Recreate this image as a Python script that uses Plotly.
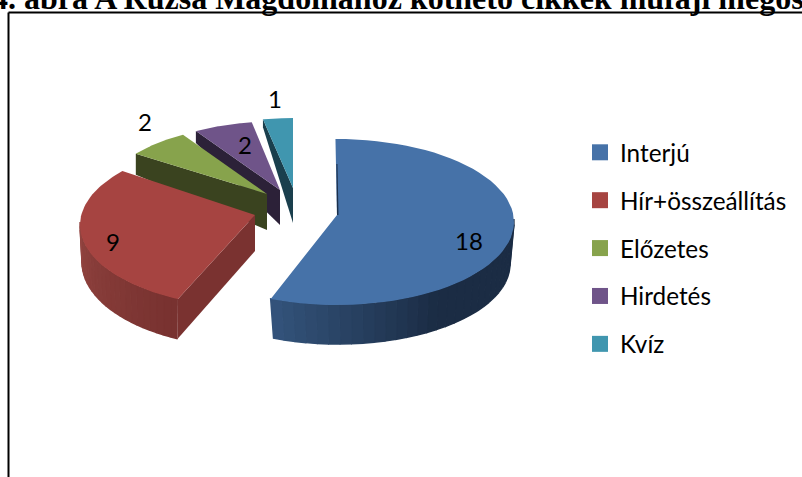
import math
import plotly.graph_objects as go

# ---------- data ----------
categories = ["Interjú", "Hír+összeállítás", "Előzetes", "Hirdetés", "Kvíz"]
values = [18, 9, 2, 2, 1]
title_text = "4. ábra A Rúzsa Magdolnához köthető cikkek műfaji megoszlása"

# ---------- style ----------
top_colors = ["#4672A8", "#A64441", "#87A34C", "#6F5489", "#4096AF"]
cut_colors = ["#1B2F4A", "#7A3230", "#3A431F", "#2C2138", "#1A3F4D"]
wall_from = {0: (52, 84, 124), 1: (120, 50, 48)}
wall_to = {0: (27, 44, 68), 1: (146, 68, 64)}

# Hand-fitted projection of each exploded slice (page pixels)
# apex, top ellipse (cx, cy, rx, ry), angle phase and span stretch, extrusion depths
proj = [
    dict(apex=(337, 215), top=(337, 222, 177, 83), phase=-0.5, stretch=1.0, bottom=(338, 264, 172, 80), apex_depth=36),
    dict(apex=(255, 215), top=(252, 225, 172, 82), phase=3, stretch=1.043, bottom=(250, 262, 168, 85), apex_depth=36),
    dict(apex=(267, 194), top=(278, 192, 171, 69), phase=0, stretch=1.0, rim_depth=21, apex_depth=36),
    dict(apex=(280, 190), top=(282, 181, 155, 60), phase=0, stretch=1.0, rim_depth=12, apex_depth=35),
    dict(apex=(293, 188), top=(293, 188, 154, 70), phase=0, stretch=1.0, rim_depth=8, apex_depth=35),
]
label_pos = [(469, 244), (113, 245), (145, 125), (245, 148), (275, 102)]


def pt(ell, deg):
    r = math.radians(deg)
    return ell[0] + ell[2] * math.sin(r), ell[1] - ell[3] * math.cos(r)


def frange(a, b, n):
    return [a + (b - a) * i / n for i in range(n + 1)]


def poly(points, color, line=False):
    xs = [p[0] for p in points]
    ys = [p[1] for p in points]
    return go.Scatter(x=xs, y=ys, mode="lines", fill="toself", fillcolor=color,
                      line=dict(color=color, width=1.5 if line else 0),
                      showlegend=False, hoverinfo="skip")


# slice angles come from the values, clockwise from 12 o'clock
total = sum(values)
spans = []
acc = 0.0
for v in values:
    a0 = acc
    acc += 360.0 * v / total
    spans.append((a0, acc))

fig = go.Figure()

# back-to-front painting order
for i in [4, 3, 2, 1, 0]:
    g = proj[i]
    a0, a1 = spans[i]
    s = a0 + g["phase"]
    e = s + (a1 - a0) * g["stretch"]
    ax, ay = g["apex"]
    top_arc = [pt(g["top"], d) for d in frange(s, e, 60)]

    if i == 0:
        # outer wall strips, front of the ellipse only
        strips = frange(88, e, 30)
        for k in range(len(strips) - 1):
            d0, d1 = strips[k], strips[k + 1]
            t = max(0.0, min(1.0, ((d0 + d1) / 2 - 145) / (e - 145)))
            c = tuple(int(wall_to[0][n] * (1 - t) + wall_from[0][n] * t) for n in range(3))
            fig.add_trace(poly([pt(g["top"], d0), pt(g["top"], d1), pt(g["bottom"], d1), pt(g["bottom"], d0)],
                               "rgb(%d,%d,%d)" % c, True))
    elif i == 1:
        strips = frange(s, min(e, 272), 24)
        for k in range(len(strips) - 1):
            t = k / (len(strips) - 2)
            c = tuple(int(wall_from[1][n] * (1 - t) + wall_to[1][n] * t) for n in range(3))
            d0, d1 = strips[k], strips[k + 1]
            fig.add_trace(poly([pt(g["top"], d0), pt(g["top"], d1), pt(g["bottom"], d1), pt(g["bottom"], d0)],
                               "rgb(%d,%d,%d)" % c, True))
        # cut face toward the centre
        fig.add_trace(poly([pt(g["top"], s), (ax, ay), (ax, ay + g["apex_depth"]), pt(g["bottom"], s)], cut_colors[i]))
    else:
        # cut face seen on the front-left edge of the narrow slices
        p = pt(g["top"], s)
        fig.add_trace(poly([p, (ax, ay), (ax, ay + g["apex_depth"]), (p[0], p[1] + g["rim_depth"])], cut_colors[i]))

    # top face
    fig.add_trace(poly([(ax, ay)] + top_arc + [(ax, ay)], top_colors[i]))

    if i == 0:
        # thin dark sliver of the far cut edge
        p = pt(g["top"], s)
        fig.add_trace(poly([(p[0] + 1, p[1] + 25), (ax, ay), (ax + 1.5, ay), (p[0] + 2, p[1] + 25)], cut_colors[i]))

# data labels
fig.add_trace(go.Scatter(x=[p[0] for p in label_pos], y=[p[1] for p in label_pos],
                         text=[str(v) for v in values], mode="text",
                         textfont=dict(family="Lato", size=24, color="#000000"),
                         showlegend=False, hoverinfo="skip"))

# legend entries
for i, name in enumerate(categories):
    fig.add_trace(go.Scatter(x=[None], y=[None], mode="markers", name=name, legendgroup=name,
                             marker=dict(symbol="square", size=17, color=top_colors[i])))

fig.update_layout(
    width=802, height=477,
    margin=dict(l=0, r=0, t=0, b=0),
    paper_bgcolor="white", plot_bgcolor="white",
    xaxis=dict(range=[0, 802], visible=False, fixedrange=True),
    yaxis=dict(range=[477, 0], visible=False, fixedrange=True),
    legend=dict(x=580 / 802, y=1 - 130 / 477, xanchor="left", yanchor="top",
                font=dict(family="Lato", size=24.3, color="#000000"),
                tracegroupgap=13.3, itemwidth=30, bgcolor="rgba(0,0,0,0)"),
    shapes=[
        dict(type="line", xref="x", yref="y", x0=8.5, x1=8.5, y0=12.5, y1=477, line=dict(color="#000000", width=2)),
        dict(type="line", xref="x", yref="y", x0=8.5, x1=802, y0=12.5, y1=12.5, line=dict(color="#000000", width=2)),
    ],
    annotations=[dict(text="<b>%s</b>" % title_text, xref="paper", yref="paper", x=-10 / 802, y=1,
                      xanchor="left", yanchor="bottom", yshift=-18, showarrow=False,
                      font=dict(family="Liberation Serif", size=32, color="#000000"))],
)

fig.write_html("out.html", config=dict(displayModeBar=False),
               post_script="document.body.style.margin='0';document.documentElement.style.overflow='hidden';")
